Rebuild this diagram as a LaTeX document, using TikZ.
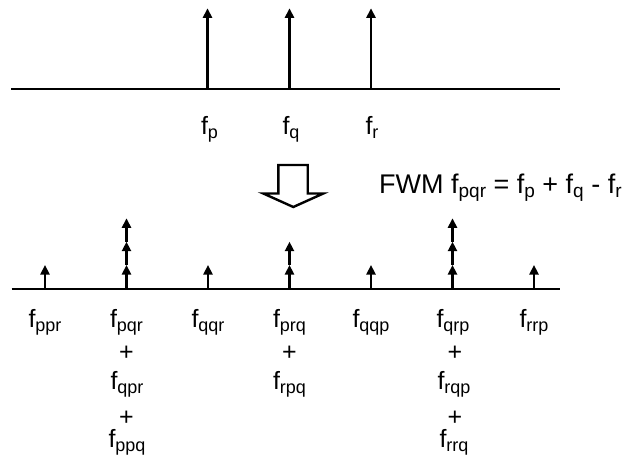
\documentclass[tikz,border=0pt]{standalone}
\usepackage{fontspec}
\setmainfont{Liberation Sans}
\usetikzlibrary{arrows.meta}
\newcommand{\fx}[2][18]{f\raisebox{-4pt}{\fontsize{#1}{#1}\selectfont #2}}
\begin{document}
\begin{tikzpicture}[x=1pt,y=-1pt,
  axisline/.style={line width=1.7pt},
  spike/.style={line width=2.4pt,-{Triangle[width=9pt,length=9.5pt]}},
  lbl/.style={inner sep=0pt,anchor=base,font=\fontsize{25}{30}\selectfont},
  plus/.style={inner sep=0pt,anchor=center,font=\fontsize{25}{30}\selectfont},
  bigarrow/.style={line width=2.4pt,line join=miter,miter limit=10}]
\useasboundingbox (0,0) rectangle (625,458);
% top axis
\coordinate (tL) at (11,88.7);
\coordinate (tR) at (560,88.7);
\draw[axisline] (tL) -- (tR);
\foreach \n/\x in {p/207.5,q/289.5,r/371}{
  \coordinate (tb\n) at (\x,88.7);
  \coordinate (tt\n) at (\x,8.3);
  \draw[spike] (tb\n) -- (tt\n);
}
\node[lbl] (lp) at (209.5,134) {\fx{p}};
\node[lbl] (lq) at (291,134) {\fx{q}};
\node[lbl] (lr) at (372,134) {\fx{r}};
% big hollow arrow
\draw[bigarrow] (278.3,165) -- (307.7,165) -- (307.7,193.5) -- (323.3,193.5)
  -- (293.3,207) -- (263.3,193.5) -- (278.3,193.5) -- cycle;
\node[inner sep=0pt,anchor=base west,font=\fontsize{27}{32}\selectfont] (fwm) at (379,193.3)
  {FWM \fx[19]{pqr} = \fx[19]{p} + \fx[19]{q} - \fx[19]{r}};
% bottom axis
\coordinate (bL) at (11.5,289.3);
\coordinate (bR) at (559.5,289.3);
\draw[axisline] (bL) -- (bR);
\foreach \i/\x/\k in {1/45/1,2/126.5/3,3/208/1,4/289.5/2,5/371/1,6/452.5/3,7/534/1}{
  \coordinate (b\i) at (\x,289.3);
  \coordinate (h\i a) at (\x,265);
  \coordinate (h\i b) at (\x,241.7);
  \coordinate (h\i c) at (\x,218.3);
  \draw[spike] (b\i) -- (h\i a);
  \ifnum\k>1 \draw[spike] (h\i a) -- (h\i b); \fi
  \ifnum\k>2 \draw[spike] (h\i b) -- (h\i c); \fi
}
% labels row 1
\node[lbl] (n1) at (45,327) {\fx{ppr}};
\node[lbl] (n2) at (126.5,327) {\fx{pqr}};
\node[lbl] (n3) at (208,327) {\fx{qqr}};
\node[lbl] (n4) at (289.5,327) {\fx{prq}};
\node[lbl] (n5) at (371,327) {\fx{qqp}};
\node[lbl] (n6) at (453,327) {\fx{qrp}};
\node[lbl] (n7) at (534,327) {\fx{rrp}};
% plus and continued labels
\node[plus] (p2a) at (126.5,353) {+};
\node[lbl] (n2b) at (127,389) {\fx{qpr}};
\node[plus] (p2b) at (126.5,418) {+};
\node[lbl] (n2c) at (127,447.5) {\fx{ppq}};
\node[plus] (p4a) at (289.5,353) {+};
\node[lbl] (n4b) at (289.5,389) {\fx{rpq}};
\node[plus] (p6a) at (455,353) {+};
\node[lbl] (n6b) at (454,389) {\fx{rqp}};
\node[plus] (p6b) at (455,418) {+};
\node[lbl] (n6c) at (454,447.5) {\fx{rrq}};
\end{tikzpicture}
\end{document}
